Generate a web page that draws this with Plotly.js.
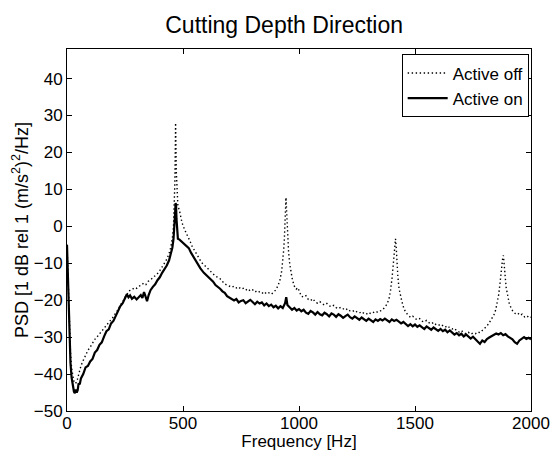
<!DOCTYPE html>
<html>
<head>
<meta charset="utf-8">
<script src="https://cdn.plot.ly/plotly-3.0.1.min.js"></script>
<style>html,body{margin:0;padding:0;background:#fff;}#chart{width:551px;height:451px;}</style>
</head>
<body>
<div id="chart"></div>
<script>
// Active off (dotted)
const offFreq = [0,3,6,10,15,20,25,30,35,40,45,50,55,60,70,80,90,100,110,120,130,140,150,160,170,180,190,200,210,220,230,240,250,260,270,280,290,300,310,320,330,340,350,360,370,380,390,400,410,420,430,440,448,454,459,462,465,467,468,469,471,474,478,485,490,495,500,505,510,515,520,530,540,550,560,570,580,590,600,610,620,630,640,650,660,670,680,690,700,710,720,730,740,750,760,770,780,790,800,810,820,830,840,850,860,870,880,890,900,910,918,925,930,934,937,940,942,944,946,948,951,955,960,966,972,980,988,995,1002,1010,1020,1030,1040,1050,1060,1070,1080,1090,1100,1110,1120,1130,1140,1150,1160,1170,1180,1190,1200,1210,1220,1230,1240,1250,1260,1270,1280,1290,1300,1310,1320,1330,1340,1350,1360,1370,1380,1388,1395,1401,1406,1410,1413,1416,1419,1422,1426,1431,1437,1444,1452,1460,1470,1480,1490,1500,1510,1520,1530,1540,1550,1560,1570,1580,1590,1600,1610,1620,1630,1640,1650,1660,1670,1680,1690,1700,1710,1720,1730,1740,1750,1760,1770,1780,1790,1800,1810,1820,1830,1840,1848,1855,1861,1866,1870,1874,1878,1881,1884,1888,1893,1899,1906,1914,1922,1932,1942,1952,1962,1972,1982,1992,2000];
const offPSD = [-5,-11,-19,-27,-34,-38.5,-40.8,-42,-42.6,-42.3,-41.4,-40.2,-39,-37.8,-36.3,-34.8,-33.6,-32.7,-31.5,-30.6,-29.9,-29.2,-28.3,-27.6,-26.8,-26.1,-25.2,-24.5,-23.4,-22.6,-21.3,-20.5,-19.2,-18.1,-17.4,-17.2,-16.6,-16.8,-16.2,-16.0,-15.4,-15.8,-14.9,-14.5,-14.0,-13.4,-12.8,-12.0,-11.1,-10.0,-8.9,-7.4,-5.5,-3.2,0,4,12,22,28,24,15,8,5.6,4.2,2.4,1.2,0.2,-0.8,-1.3,-2.0,-2.6,-4.0,-5.5,-6.6,-7.9,-8.8,-9.8,-10.4,-11.0,-11.8,-12.4,-12.9,-13.5,-13.8,-14.2,-14.9,-15.6,-15.9,-16.2,-16.5,-16.2,-16.7,-16.4,-17.0,-16.8,-17.3,-16.9,-17.5,-17.2,-17.8,-17.4,-17.9,-18.2,-17.7,-18.3,-18.0,-18.4,-17.9,-17.2,-16.0,-14.5,-12.2,-9.6,-6.5,-3.5,1,4.5,7.8,5,1,-3.2,-7,-10.2,-12.8,-14.6,-16.2,-17.0,-16.6,-17.8,-18.9,-19.2,-18.8,-19.8,-20.1,-19.6,-20.5,-20.8,-20.4,-21.0,-21.3,-20.9,-21.5,-21.8,-21.4,-22.0,-22.3,-21.9,-22.4,-22.7,-22.3,-22.9,-23.1,-22.7,-23.2,-23.5,-23.1,-23.6,-23.8,-23.3,-23.7,-23.4,-23.0,-23.3,-22.9,-22.6,-21.9,-21.0,-19.6,-17.2,-14,-10.5,-7,-4.5,-3.4,-5.5,-9.5,-13.5,-16.8,-18.9,-20.5,-22.2,-23.3,-24.0,-24.6,-24.3,-25.0,-25.3,-25.0,-25.7,-25.9,-25.5,-26.1,-26.4,-26.0,-26.6,-26.9,-26.5,-27.0,-27.3,-26.9,-27.5,-27.8,-27.6,-28.3,-28.6,-28.2,-28.8,-29.1,-28.7,-29.2,-28.9,-29.1,-28.6,-28.8,-28.2,-27.6,-27.0,-26.1,-25.2,-24.0,-22.6,-20.8,-18.4,-15.6,-12.8,-10.2,-8.6,-7.9,-9.4,-13,-16.6,-19,-20.8,-22.1,-23,-23.6,-23.4,-24.1,-23.8,-24.5,-24.2,-24.8,-24.6];

// Active on (solid)
const onFreq = [0,3,6,10,15,20,25,30,34,38,42,46,50,55,60,70,80,90,100,110,120,130,140,150,160,170,180,190,200,210,220,230,240,250,258,265,272,280,290,300,310,318,325,332,338,345,352,360,370,380,390,400,410,420,430,440,448,454,459,463,466,468,470,472,475,478,485,495,505,515,525,535,545,555,565,575,590,600,610,620,630,640,650,660,670,680,690,700,710,720,730,740,750,760,770,780,790,800,810,820,830,840,850,860,870,880,890,900,910,920,930,940,945,950,960,970,980,990,1000,1010,1020,1030,1040,1050,1060,1070,1080,1090,1100,1110,1120,1130,1140,1150,1160,1170,1180,1190,1200,1210,1220,1230,1240,1250,1260,1270,1280,1290,1300,1310,1320,1330,1340,1350,1360,1370,1380,1390,1400,1410,1420,1430,1440,1450,1460,1470,1480,1490,1500,1510,1520,1530,1540,1550,1560,1570,1580,1590,1600,1610,1620,1630,1640,1650,1660,1670,1680,1690,1700,1710,1720,1730,1740,1750,1760,1770,1780,1790,1800,1810,1820,1830,1840,1850,1860,1870,1880,1890,1900,1910,1920,1930,1940,1950,1960,1970,1980,1990,2000];
const onPSD = [-5,-12,-22,-31,-37,-41,-43.5,-44.8,-45.2,-44.2,-45,-44.4,-42.5,-42.8,-41.2,-40,-38.2,-37.8,-36.6,-35.9,-34.2,-33.5,-32.1,-31.4,-29.8,-28.4,-27.9,-26.3,-25.6,-24.2,-23,-21.6,-20.8,-19.3,-18.4,-19.2,-18.7,-19.6,-19.1,-19.8,-19.2,-18.6,-19.4,-17.8,-18.9,-20.3,-18.6,-17.3,-16.4,-15.7,-14.6,-13.8,-12.6,-11.7,-10.6,-9.2,-7.6,-5.8,-3.5,-0.5,3.5,6.3,5.8,2,-2,-3.4,-3.6,-4.2,-4.6,-5.3,-5.9,-7.2,-8.3,-9.6,-10.6,-11.4,-12.6,-13.2,-13.8,-14.6,-15.0,-15.9,-16.3,-16.9,-17.6,-18.0,-18.9,-19.3,-19.8,-20.1,-19.7,-20.6,-20.2,-20.0,-20.8,-20.3,-19.9,-20.5,-21.1,-20.4,-20.9,-20.6,-21.4,-20.9,-21.6,-21.2,-21.9,-21.5,-22.2,-21.6,-22.1,-20.8,-19.2,-21.3,-22.0,-22.6,-22.1,-22.8,-22.4,-23.0,-22.6,-23.4,-23.7,-22.9,-23.3,-23.9,-23.2,-23.8,-24.1,-23.4,-23.8,-24.4,-23.6,-23.9,-24.5,-23.8,-24.2,-24.8,-24.3,-23.9,-24.6,-25.0,-24.4,-24.9,-25.3,-24.7,-25.1,-25.6,-25.0,-25.4,-25.9,-25.2,-25.6,-25.1,-25.5,-25.0,-25.4,-25.9,-25.2,-25.6,-25.3,-25.8,-26.3,-25.9,-26.6,-27.0,-26.5,-27.1,-26.6,-27.2,-26.8,-27.4,-27.8,-27.1,-27.5,-28.0,-27.4,-27.9,-28.3,-27.8,-28.4,-28.0,-28.7,-28.2,-28.8,-29.3,-28.9,-29.5,-29.1,-29.8,-29.3,-30.0,-30.4,-29.9,-30.7,-31.2,-31.8,-30.9,-31.3,-30.5,-30.1,-29.7,-29.4,-29.0,-29.3,-28.9,-29.5,-29.2,-29.8,-30.3,-30.6,-31.4,-31.8,-30.9,-30.4,-30.0,-30.5,-30.2,-30.6];

const xTicks = [0,500,1000,1500,2000];
const yTicks = [-50,-40,-30,-20,-10,0,10,20,30,40];

const FONT = '"Liberation Sans", Arial, Helvetica, sans-serif';

const traces = [
  {x: offFreq, y: offPSD, name: 'Active off', type: 'scatter', mode: 'lines',
   line: {color: 'black', width: 1.4, dash: '1.4px,2.6px'}},
  {x: onFreq, y: onPSD, name: 'Active on', type: 'scatter', mode: 'lines',
   line: {color: 'black', width: 2.2}}
];

const axisCommon = {
  showline: true, linecolor: 'black', linewidth: 1, mirror: 'ticks',
  ticks: 'inside', ticklen: 5, tickcolor: 'black', tickwidth: 1,
  showgrid: false, zeroline: false, ticklabeloverflow: 'allow',
  tickfont: {family: FONT, size: 17, color: 'black'}
};

const layout = {
  width: 551, height: 451,
  margin: {l: 67, r: 20, t: 49, b: 40},
  paper_bgcolor: 'white', plot_bgcolor: 'white',
  font: {family: FONT, color: 'black'},
  title: {text: 'Cutting Depth Direction', font: {family: FONT, size: 23, color: 'black'},
          xref: 'paper', x: 0.468, xanchor: 'center', yref: 'container', y: 0.945, yanchor: 'middle'},
  xaxis: Object.assign({}, axisCommon, {
    range: [0, 2000], tickvals: xTicks, ticktext: xTicks.map(String), ticklabelstandoff: -3,
    title: {text: 'Frequency [Hz]', font: {family: FONT, size: 17, color: 'black'}, standoff: 4}
  }),
  yaxis: Object.assign({}, axisCommon, {
    range: [-50, 48], tickvals: yTicks, ticktext: yTicks.map(v => v < 0 ? '\u2212' + Math.abs(v) : String(v)),
    title: {text: 'PSD [1 dB rel 1 (m/s<sup>2</sup>)<sup>2</sup>/Hz]', font: {family: FONT, size: 18, color: 'black'}, standoff: 0}
  }),
  showlegend: true,
  legend: {x: 0.995, xanchor: 'right', y: 0.985, yanchor: 'top',
           bordercolor: 'black', borderwidth: 1, bgcolor: 'white', itemwidth: 40,
           font: {family: FONT, size: 17, color: 'black'}, tracegroupgap: 0}
};

Plotly.newPlot('chart', traces, layout, {displayModeBar: false, staticPlot: true});
</script>
</body>
</html>
